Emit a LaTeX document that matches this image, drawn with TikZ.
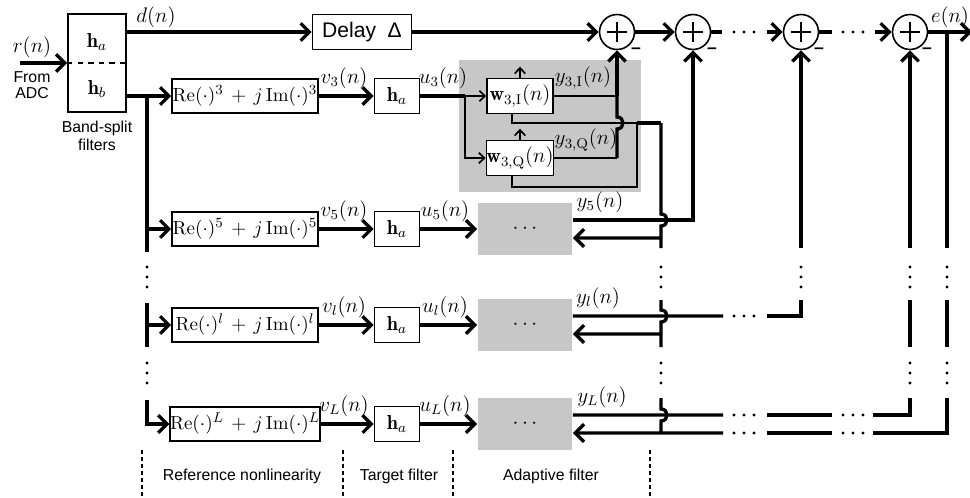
\documentclass[tikz,border=0pt]{standalone}
\usepackage{fontspec}
\newfontfamily\arial{Liberation Sans}
\usetikzlibrary{arrows.meta}
\begin{document}
\begin{tikzpicture}[x=0.02cm,y=-0.02cm,
  thk/.style={line width=1.9pt},
  thn/.style={line width=0.95pt},
  arr/.style={-{Straight Barb[length=5pt,width=10pt]}},
  sarr/.style={-{Straight Barb[length=3.2pt,width=6pt]}},
  box/.style={draw,line width=0.9pt,inner sep=0pt,fill=white},
  circ/.style={draw,circle,line width=0.9pt,minimum size=0.7cm,inner sep=0pt,fill=white},
  mt/.style={font=\fontsize{11.5}{13}\selectfont},
  ret/.style={font=\fontsize{10.8}{13}\selectfont},
  sf/.style={font=\arial\fontsize{9}{10}\selectfont},
  gbox/.style={fill=black!22,inner sep=0pt},
  minus/.style={font=\arial\bfseries\fontsize{10}{10}\selectfont,inner sep=0pt},
  dashv/.style={line width=0.7pt,dash pattern=on 0.08cm off 0.06cm},
  dot/.style={fill=black}
]
\useasboundingbox (0,0) rectangle (970,497);

% band-split filters
\node[box,minimum width=1.16cm,minimum height=1.96cm] (bs) at (97,63) {};
\draw[dashed,line width=0.8pt] (bs.west) -- (bs.east);
\node[mt] (ha0) at (97,42) {$\mathbf{h}_a$};
\node[mt] (hb0) at (97,89) {$\mathbf{h}_b$};
\coordinate (rin) at (20,63);
\draw[thk,arr] (rin) -- (bs.west);
\node[mt] (rlab) at (32,47) {$r(n)$};
\node[sf,align=center,font=\arial\fontsize{9}{9.2}\selectfont] (adc) at (32,85) {From\\ADC};
\node[sf,align=center] (bsl) at (97,136) {Band-split\\filters};

% delay
\node[box,minimum width=1.98cm,minimum height=0.7cm,font=\arial\fontsize{12}{14}\selectfont] (dl) at (362,32) {Delay\ \ Δ};
\node[mt] (dlab) at (156,17) {$d(n)$};
\draw[thk,arr] (bs.east |- dl.west) -- (dl.west);

% summing junctions
\node[circ] (c1) at (617,32) {};
\node[circ] (c2) at (693,32) {};
\node[circ] (c3) at (801,32) {};
\node[circ] (c4) at (910,32) {};
\foreach \c in {c1,c2,c3,c4}{
  \draw[line width=0.7pt] (\c.center) +(-10,0) -- +(10,0) +(0,-10) -- +(0,10);
}
\node[minus] (m1) at (636,51) {–};
\node[minus] (m2) at (712,51) {–};
\node[minus] (m3) at (819,51) {–};
\node[minus] (m4) at (927,51) {–};

\draw[thk,arr] (dl.east) -- (c1.west);
\draw[thk,arr] (c1.east) -- (c2.west);
\coordinate (t1) at (722,32); \coordinate (t2) at (767,32);
\coordinate (t3) at (832,32); \coordinate (t4) at (875,32);
\draw[thk] (c2.east) -- (t1);
\draw[thk,arr] (t2) -- (c3.west);
\draw[thk] (c3.east) -- (t3);
\draw[thk,arr] (t4) -- (c4.west);
\coordinate (eout) at (972,32);
\draw[thk,arr] (c4.east) -- (eout);
\node[mt] (elab) at (950,17) {$e(n)$};
\foreach \x in {734,744,754,843,853,863}{ \fill[dot] (\x,32) circle[radius=1.6]; }

% nonlinearity boxes
\node[box,ret,minimum width=2.92cm,minimum height=0.68cm] (re3) at (245,96) {$\mathrm{Re}(\cdot)^3\,+\,j\,\mathrm{Im}(\cdot)^3$};
\node[box,ret,minimum width=2.92cm,minimum height=0.68cm] (re5) at (245,229) {$\mathrm{Re}(\cdot)^5\,+\,j\,\mathrm{Im}(\cdot)^5$};
\node[box,ret,minimum width=2.92cm,minimum height=0.68cm] (rel) at (245,325) {$\mathrm{Re}(\cdot)^l\,+\,j\,\mathrm{Im}(\cdot)^l$};
\node[box,ret,minimum width=2.92cm,minimum height=0.68cm] (reL) at (245,424) {$\mathrm{Re}(\cdot)^L\,+\,j\,\mathrm{Im}(\cdot)^L$};

% target filters
\node[box,mt,minimum width=0.9cm,minimum height=0.7cm] (h3) at (397,96) {$\mathbf{h}_a$};
\node[box,mt,minimum width=0.9cm,minimum height=0.7cm] (h5) at (397,229) {$\mathbf{h}_a$};
\node[box,mt,minimum width=0.9cm,minimum height=0.7cm] (hl) at (397,325) {$\mathbf{h}_a$};
\node[box,mt,minimum width=0.9cm,minimum height=0.7cm] (hL) at (397,424) {$\mathbf{h}_a$};

% left bus
\coordinate (b3) at (147,96);
\coordinate (b5) at (147,229);
\coordinate (b5e) at (147,252);
\coordinate (bls) at (147,303);
\coordinate (bl) at (147,325);
\coordinate (ble) at (147,347);
\coordinate (bLs) at (147,400);
\draw[thk,arr] (bs.east |- re3.west) -- (re3.west);
\draw[thk] (b3) -- (b5e);
\draw[thk,arr] (b5) -- (re5.west);
\draw[thk] (bls) -- (ble);
\draw[thk,arr] (bl) -- (rel.west);
\draw[thk,arr] (bLs) |- (reL.west);
\foreach \y in {267,277,287,363,373,383}{ \fill[dot] (147,\y) circle[radius=1.6]; }

% row connectors v and u
\draw[thk,arr] (re3.east) -- (h3.west);
\draw[thk,arr] (re5.east) -- (h5.west);
\draw[thk,arr] (rel.east) -- (hl.west);
\draw[thk,arr] (reL.east) -- (hL.west);
\node[mt,anchor=south] (v3) at (344,95) {$v_3(n)$};
\node[mt,anchor=south] (v5) at (344,228) {$v_5(n)$};
\node[mt,anchor=south] (vl) at (344,324) {$v_l(n)$};
\node[mt,anchor=south] (vL) at (344,423) {$v_L(n)$};

% branch 3 adaptive block
\node[gbox,minimum width=3.64cm,minimum height=2.64cm] (g3) at (550,126) {};
\node[box,mt,minimum width=1.32cm,minimum height=0.7cm] (w3i) at (520,96) {$\mathbf{w}_{3,\mathrm{I}}(n)$};
\node[box,mt,minimum width=1.32cm,minimum height=0.7cm] (w3q) at (520,158) {$\mathbf{w}_{3,\mathrm{Q}}(n)$};
\coordinate (s3) at (465,96);
\draw[thk] (h3.east) -- (s3);
\draw[thn,sarr] (s3) -- (w3i.west);
\draw[thn,sarr] (s3) |- (w3q.west);
\node[mt,anchor=south] (u3) at (443,95) {$u_3(n)$};
\draw[thn,sarr] (w3i.north) -- ++(0,-11);
\draw[thn,sarr] (w3q.north) -- ++(0,-11);
\coordinate (j3) at (617,96);
\coordinate (k3) at (617,158);
\draw[thn] (w3i.east) -- (j3);
\draw[thn] (w3q.east) -- (k3);
\node[mt,anchor=south] (y3i) at (583,95) {$y_{3,\mathrm{I}}(n)$};
\node[mt,anchor=south] (y3q) at (586,157) {$y_{3,\mathrm{Q}}(n)$};
\draw[thk] (k3) -- (617,129) .. controls (625,129) and (625,117) .. (617,117) -- (j3);
\draw[thk,arr] (j3) -- (c1.south);
% feedback into branch 3
\coordinate (f3) at (661,123);
\coordinate (f3b) at (637,123);
\coordinate (fb3i) at ([xshift=-0.16cm]w3i.south);
\coordinate (fb3q) at ([xshift=-0.16cm]w3q.south);
\coordinate (f3c) at (637,187);
\draw[thk] (f3) -- (f3b);
\draw[thn] (f3b) -- (fb3i |- f3b) -- (fb3i);
\draw[thn] (f3b) -- (f3c) -- (fb3q |- f3c) -- (fb3q);

% other adaptive blocks
\node[gbox,mt,minimum width=1.9cm,minimum height=1.04cm] (a5) at (525,229) {$\cdots$};
\node[gbox,mt,minimum width=1.9cm,minimum height=1.04cm] (al) at (525,325) {$\cdots$};
\node[gbox,mt,minimum width=1.9cm,minimum height=1.04cm] (aL) at (525,424) {$\cdots$};
\draw[thk,arr] (h5.east) -- (a5.west);
\draw[thk,arr] (hl.east) -- (al.west);
\draw[thk,arr] (hL.east) -- (aL.west);
\node[mt,anchor=south] (u5) at (445,228) {$u_5(n)$};
\node[mt,anchor=south] (ul) at (445,324) {$u_l(n)$};
\node[mt,anchor=south] (uL) at (445,423) {$u_L(n)$};

\coordinate (o5) at ([yshift=0.18cm]a5.east);
\coordinate (i5) at ([yshift=-0.18cm]a5.east);
\coordinate (ol) at ([yshift=0.18cm]al.east);
\coordinate (il) at ([yshift=-0.18cm]al.east);
\coordinate (oL) at ([yshift=0.18cm]aL.east);
\coordinate (iL) at ([yshift=-0.18cm]aL.east);
\node[mt,anchor=south] (y5) at (600,219) {$y_5(n)$};
\node[mt,anchor=south] (yl) at (598,315) {$y_l(n)$};
\node[mt,anchor=south] (yL) at (602,414) {$y_L(n)$};

% y5 to c2
\draw[thk,arr] (o5) -| (c2.south);
% yl to c3
\coordinate (pl1) at (723,316); \coordinate (pl2) at (767,316); \coordinate (pl3) at (801,300);
\draw[thk] (ol) -- (pl1);
\draw[thk] (pl2) -| (pl3);
\coordinate (c3b) at (801,248);
\draw[thk,arr] (c3b) -- (c3.south);
% yL to c4
\coordinate (pL1) at (723,415); \coordinate (pL2) at (767,415); \coordinate (pL3) at (832,415);
\coordinate (pL4) at (873,415); \coordinate (pL5) at (910,398);
\draw[thk] (oL) -- (pL1);
\draw[thk] (pL2) -- (pL3);
\draw[thk] (pL4) -| (pL5);
\coordinate (c4b) at (910,248); \coordinate (c4m1) at (910,300); \coordinate (c4m2) at (910,347);
\draw[thk,arr] (c4b) -- (c4.south);
\draw[thk] (c4m1) -- (c4m2);
% e(n) feedback
\coordinate (ev0) at (947,32); \coordinate (ev1) at (947,248);
\coordinate (ev2) at (947,300); \coordinate (ev3) at (947,347);
\coordinate (ev4) at (947,398); \coordinate (ee1) at (873,433);
\coordinate (ee2) at (832,433); \coordinate (ee3) at (767,433);
\coordinate (ee4) at (723,433);
\draw[thk] (ev0) -- (ev1);
\draw[thk] (ev2) -- (ev3);
\draw[thk] (ev4) |- (ee1);
\draw[thk] (ee2) -- (ee3);
\draw[thk,arr] (ee4) -- (iL);
% feedback bus
\draw[thk] (f3) -- (661,214) .. controls (669,214) and (669,226) .. (661,226) -- (661,248);
\draw[thk] (661,300) -- (661,310) .. controls (669,310) and (669,322) .. (661,322) -- (661,347);
\draw[thk] (661,398) -- (661,409) .. controls (669,409) and (669,421) .. (661,421) -- (661,433);
\coordinate (t5) at (661,238); \coordinate (tl) at (661,334);
\draw[thk,arr] (t5) -- (i5);
\draw[thk,arr] (tl) -- (il);

\foreach \x in {661,801,910,947}{ \foreach \y in {267,277,287}{ \fill[dot] (\x,\y) circle[radius=1.6]; } }
\foreach \x in {661,910,947}{ \foreach \y in {363,373,383}{ \fill[dot] (\x,\y) circle[radius=1.6]; } }
\foreach \x in {734,744,754}{ \foreach \y in {316,415,433}{ \fill[dot] (\x,\y) circle[radius=1.6]; } }
\foreach \x in {843,853,863}{ \foreach \y in {415,433}{ \fill[dot] (\x,\y) circle[radius=1.6]; } }

% section labels
\draw[dashv] (142,450) -- (142,497);
\draw[dashv] (343,450) -- (343,497);
\draw[dashv] (453,450) -- (453,497);
\draw[dashv] (650,450) -- (650,497);
\node[sf] (lb1) at (242,476) {Reference nonlinearity};
\node[sf] (lb2) at (399,476) {Target filter};
\node[sf] (lb3) at (551,476) {Adaptive filter};
\end{tikzpicture}
\end{document}
